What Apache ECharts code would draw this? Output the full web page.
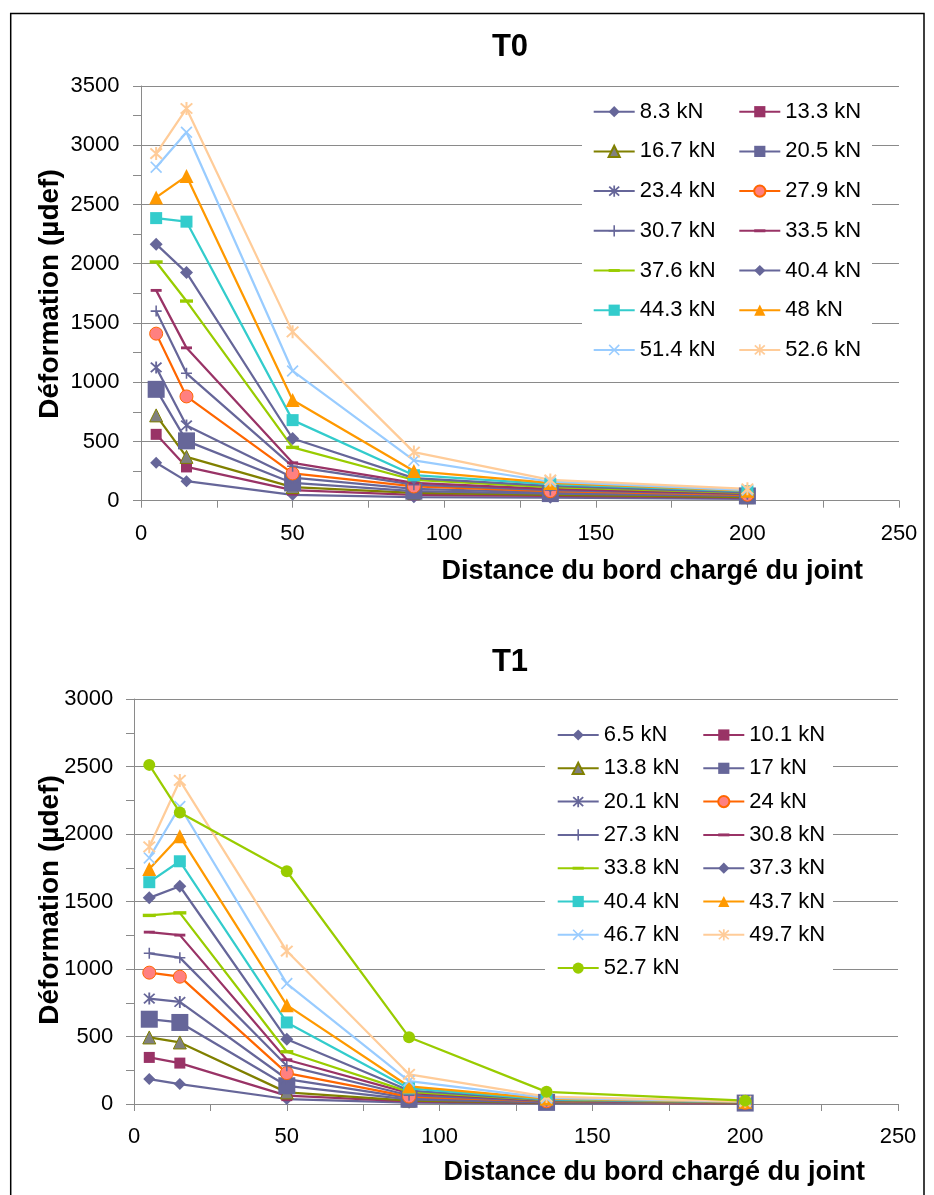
<!DOCTYPE html>
<html>
<head>
<meta charset="utf-8">
<script src="https://cdn.jsdelivr.net/npm/echarts@6/dist/echarts.min.js"></script>
<style>
html,body{margin:0;padding:0;background:#fff;}
#chart{width:934px;height:1195px;}
</style>
</head>
<body>
<div id="chart"></div>
<script>
// ---- data ----
const distances = [5, 15, 50, 90, 135, 200];
const xTicks = [0, 50, 100, 150, 200, 250];

const t0Names = ['8.3 kN','13.3 kN','16.7 kN','20.5 kN','23.4 kN','27.9 kN','30.7 kN','33.5 kN','37.6 kN','40.4 kN','44.3 kN','48 kN','51.4 kN','52.6 kN'];
const t0_8_3  = [320, 165, 50, 30, 25, 15];
const t0_13_3 = [560, 285, 90, 50, 40, 25];
const t0_16_7 = [720, 370, 115, 65, 50, 30];
const t0_20_5 = [940, 505, 150, 80, 60, 40];
const t0_23_4 = [1125, 635, 195, 100, 70, 45];
const t0_27_9 = [1410, 880, 230, 120, 80, 50];
const t0_30_7 = [1600, 1075, 290, 135, 90, 55];
const t0_33_5 = [1775, 1290, 320, 150, 100, 60];
const t0_37_6 = [2015, 1685, 450, 175, 115, 65];
const t0_40_4 = [2165, 1925, 525, 190, 125, 70];
const t0_44_3 = [2385, 2355, 680, 215, 140, 80];
const t0_48   = [2560, 2740, 850, 250, 150, 85];
const t0_51_4 = [2815, 3110, 1095, 340, 160, 90];
const t0_52_6 = [2930, 3310, 1425, 410, 175, 100];

const t1Names = ['6.5 kN','10.1 kN','13.8 kN','17 kN','20.1 kN','24 kN','27.3 kN','30.8 kN','33.8 kN','37.3 kN','40.4 kN','43.7 kN','46.7 kN','49.7 kN','52.7 kN'];
const t1_6_5  = [185, 148, 37, 10, 5, 4];
const t1_10_1 = [345, 303, 62, 20, 8, 5];
const t1_13_8 = [493, 456, 86, 25, 10, 6];
const t1_17   = [628, 604, 135, 35, 12, 7];
const t1_20_1 = [781, 756, 185, 45, 15, 8];
const t1_24   = [973, 943, 229, 55, 20, 9];
const t1_27_3 = [1116, 1084, 283, 65, 22, 10];
const t1_30_8 = [1273, 1251, 328, 80, 25, 11];
const t1_33_8 = [1397, 1416, 387, 90, 28, 12];
const t1_37_3 = [1527, 1613, 480, 100, 30, 14];
const t1_40_4 = [1643, 1798, 604, 115, 35, 15];
const t1_43_7 = [1740, 1983, 732, 130, 40, 16];
const t1_46_7 = [1823, 2204, 892, 170, 45, 18];
const t1_49_7 = [1905, 2397, 1133, 220, 55, 20];
const t1_52_7 = [2512, 2160, 1724, 495, 90, 25];

const t0Values = [t0_8_3,t0_13_3,t0_16_7,t0_20_5,t0_23_4,t0_27_9,t0_30_7,t0_33_5,t0_37_6,t0_40_4,t0_44_3,t0_48,t0_51_4,t0_52_6];
const t1Values = [t1_6_5,t1_10_1,t1_13_8,t1_17,t1_20_1,t1_24,t1_27_3,t1_30_8,t1_33_8,t1_37_3,t1_40_4,t1_43_7,t1_46_7,t1_49_7,t1_52_7];

// ---- styles ----
const SYM = {
  asterisk: 'path://M4.3,0h1.4v10h-1.4z M0.5,1.5 L1.5,0.5 L9.5,8.5 L8.5,9.5z M8.5,0.5 L9.5,1.5 L1.5,9.5 L0.5,8.5z',
  x: 'path://M0,1 L1,0 L10,9 L9,10z M9,0 L10,1 L1,10 L0,9z',
  plus: 'path://M4.3,0h1.4v10h-1.4z M0,4.3h10v1.4h-10z',
  dash: 'path://M0,0 M0,3.7h10v2.6h-10z M10,10'
};
const styles = [
  {symbol:'diamond', size:12, color:'#666699', line:'#666699'},
  {symbol:'rect', size:11, color:'#993366', line:'#993366'},
  {symbol:'triangle', size:13, color:'#808080', border:'#808000', line:'#808000'},
  {symbol:'rect', size:17, color:'#666699', line:'#666699'},
  {symbol:SYM.asterisk, size:12, color:'#666699', line:'#666699'},
  {symbol:'circle', size:13, color:'#FF8080', border:'#FF6600', line:'#FF6600'},
  {symbol:SYM.plus, size:11, color:'#666699', line:'#666699'},
  {symbol:SYM.dash, size:11, color:'#993366', line:'#993366'},
  {symbol:SYM.dash, size:13, color:'#99CC00', line:'#99CC00'},
  {symbol:'diamond', size:13, color:'#666699', line:'#666699'},
  {symbol:'rect', size:12, color:'#33CCCC', line:'#33CCCC'},
  {symbol:'triangle', size:14, color:'#FF9900', line:'#FF9900'},
  {symbol:SYM.x, size:12, color:'#99CCFF', line:'#99CCFF'},
  {symbol:SYM.asterisk, size:13, color:'#FFCC99', line:'#FFCC99'},
  {symbol:'circle', size:12, color:'#99CC00', line:'#99CC00'}
];

const FONT = "'Liberation Sans', Arial, sans-serif";
const GRID_COLOR = '#8a8a8a';

function makeSeries(prefix, names, values, axisIdx) {
  return names.map((n, i) => {
    const s = styles[i];
    return {
      name: prefix + n,
      type: 'line',
      xAxisIndex: axisIdx, yAxisIndex: axisIdx,
      data: distances.map((d, j) => [d, values[i][j]]),
      symbol: s.symbol,
      symbolSize: s.size,
      showAllSymbol: true,
      lineStyle: {color: s.line, width: 2.25},
      itemStyle: {color: s.color, borderColor: s.border || s.color, borderWidth: s.border ? 1 : 0},
      emphasis: {disabled: true},
      z: 2
    };
  });
}

function makeAxisX(gridIndex) {
  return {
    type: 'value', gridIndex, min: 0, max: 250, interval: 50,
    axisLine: {show: true, lineStyle: {color: GRID_COLOR, width: 1}},
    axisTick: {show: true, length: 7, lineStyle: {color: GRID_COLOR}},
    minorTick: {show: true, splitNumber: 2, length: 7, lineStyle: {color: GRID_COLOR}},
    splitLine: {show: false},
    axisLabel: {fontFamily: FONT, fontSize: 22, color: '#000', margin: 22,
      formatter: v => xTicks.includes(v) ? String(v) : ''}
  };
}
function makeAxisY(gridIndex, max, margin) {
  return {
    type: 'value', gridIndex, min: 0, max: max, interval: 500,
    axisLine: {show: true, lineStyle: {color: GRID_COLOR, width: 1}},
    axisTick: {show: true, length: 8, lineStyle: {color: GRID_COLOR}},
    minorTick: {show: true, splitNumber: 2, length: 8, lineStyle: {color: GRID_COLOR}},
    splitLine: {show: true, lineStyle: {color: GRID_COLOR, width: 1}},
    axisLabel: {fontFamily: FONT, fontSize: 22, color: '#000', margin: margin,
      formatter: v => String(v)}
  };
}

function makeLegend(prefix, names, idxs, left, top, gap) {
  return {
    data: idxs.filter(i => i < names.length).map(i => prefix + names[i]),
    orient: 'vertical', left: left, top: top, padding: 0,
    itemWidth: 41, itemHeight: 14, itemGap: gap,
    selectedMode: false, z: 6,
    formatter: n => n.replace(/^T[01] /, ''),
    textStyle: {fontFamily: FONT, fontSize: 22, color: '#000', lineHeight: 24, padding: [0,0,0,0]}
  };
}
const col1 = [0, 2, 4, 6, 8, 10, 12, 14];
const col2 = [1, 3, 5, 7, 9, 11, 13];

const option = {
  animation: false,
  backgroundColor: '#fff',
  grid: [
    {left: 141, top: 86, right: 35, height: 414.7},
    {left: 134, top: 699, right: 36, height: 405}
  ],
  xAxis: [makeAxisX(0), makeAxisX(1)],
  yAxis: [makeAxisY(0, 3500, 21.5), makeAxisY(1, 3000, 20.7)],
  legend: [
    makeLegend('T0 ', t0Names, col1, 592.7, 99.7, 15.7),
    makeLegend('T0 ', t0Names, col2, 738.3, 99.7, 15.7),
    makeLegend('T1 ', t1Names, col1, 556.7, 723, 9.3),
    makeLegend('T1 ', t1Names, col2, 702.3, 723, 9.3)
  ],
  graphic: [
    {type: 'rect', z: 3, shape: {x: 582, y: 92, width: 290, height: 281}, style: {fill: '#fff'}},
    {type: 'rect', z: 3, shape: {x: 545, y: 716, width: 288, height: 270}, style: {fill: '#fff'}},
    {type: 'rect', z: 10, shape: {x: 10.7, y: 13.5, width: 913.3, height: 1200}, style: {fill: 'none', stroke: '#000', lineWidth: 1.5}},
    {type: 'text', z: 10, x: 510, y: 47, style: {text: 'T0', font: "bold 31px 'Liberation Sans', Arial, sans-serif", fill: '#000', align: 'center', verticalAlign: 'middle'}},
    {type: 'text', z: 10, x: 510, y: 662, style: {text: 'T1', font: "bold 31px 'Liberation Sans', Arial, sans-serif", fill: '#000', align: 'center', verticalAlign: 'middle'}},
    {type: 'text', z: 10, x: 863, y: 572, style: {text: 'Distance du bord chargé du joint', font: "bold 27px 'Liberation Sans', Arial, sans-serif", fill: '#000', align: 'right', verticalAlign: 'middle'}},
    {type: 'text', z: 10, x: 865, y: 1173, style: {text: 'Distance du bord chargé du joint', font: "bold 27px 'Liberation Sans', Arial, sans-serif", fill: '#000', align: 'right', verticalAlign: 'middle'}},
    {type: 'text', z: 10, x: 50, y: 294, rotation: Math.PI / 2, style: {text: 'Déformation (µdef)', font: "bold 28px 'Liberation Sans', Arial, sans-serif", fill: '#000', align: 'center', verticalAlign: 'middle'}},
    {type: 'text', z: 10, x: 50, y: 900, rotation: Math.PI / 2, style: {text: 'Déformation (µdef)', font: "bold 28px 'Liberation Sans', Arial, sans-serif", fill: '#000', align: 'center', verticalAlign: 'middle'}}
  ],
  series: [].concat(makeSeries('T0 ', t0Names, t0Values, 0), makeSeries('T1 ', t1Names, t1Values, 1))
};

const chart = echarts.init(document.getElementById('chart'), null, {renderer: 'canvas'});
chart.setOption(option);
</script>
</body>
</html>
